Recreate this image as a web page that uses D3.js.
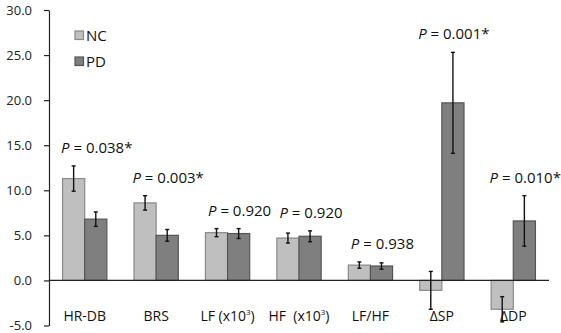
<!DOCTYPE html>
<html>
<head>
<meta charset="utf-8">
<script src="https://cdn.jsdelivr.net/npm/d3@7"></script>
<style>
  body { margin: 0; background: #fff; }
  text { font-family: "Open Sans", sans-serif; }
</style>
</head>
<body>
<div id="chart"></div>
<script>
const width = 561;
const height = 333;
const margin = { top: 10, right: 12, bottom: 7.5, left: 49 };

// data
const categories = ["HR-DB", "BRS", "LF", "HF", "LF/HF", "ΔSP", "ΔDP"];
const ncMean = [11.3, 8.6, 5.3, 4.7, 1.7, -1.1, -3.2];
const ncErr = [1.4, 0.8, 0.45, 0.55, 0.35, 2.1, 1.4];
const pdMean = [6.8, 5.0, 5.2, 4.9, 1.6, 19.7, 6.6];
const pdErr = [0.8, 0.65, 0.55, 0.6, 0.35, 5.6, 2.8];
const pLabels = ["0.038*", "0.003*", "0.920", "0.920", "0.938", "0.001*", "0.010*"];
const yTicks = [-5, 0, 5, 10, 15, 20, 25, 30];
const groups = ["NC", "PD"];

const fills = { NC: "#bfbfbf", PD: "#7f7f7f" };
const strokes = { NC: "#8a8a8a", PD: "#555555" };

const svg = d3.select("#chart")
    .append("svg")
    .attr("width", width)
    .attr("height", height);

const xScale = d3.scaleBand()
    .domain(categories)
    .range([margin.left, width - margin.right])
    .paddingInner(0.38)
    .paddingOuter(0.19);

const sub = d3.scaleBand()
    .domain(groups)
    .range([0, xScale.bandwidth()]);

const yScale = d3.scaleLinear()
    .domain([-5, 30])
    .range([height - margin.bottom, margin.top]);

// y axis
const yAxis = svg.append("g")
    .attr("transform", `translate(${margin.left},0)`)
    .call(d3.axisLeft(yScale)
        .tickValues(yTicks)
        .tickFormat(d => d.toFixed(1))
        .tickSize(5)
        .tickSizeOuter(0)
        .tickPadding(12));
yAxis.selectAll("text")
    .style("font-size", "13px")
    .attr("fill", "#222");
yAxis.selectAll("line, path").attr("stroke", "#222").attr("stroke-width", 1.2);

// flatten bars
const bars = [];
categories.forEach((c, i) => {
    bars.push({ cat: c, group: "NC", mean: ncMean[i], err: ncErr[i] });
    bars.push({ cat: c, group: "PD", mean: pdMean[i], err: pdErr[i] });
});

svg.selectAll(".bar")
    .data(bars)
    .join("rect")
    .attr("class", "bar")
    .attr("x", d => xScale(d.cat) + sub(d.group))
    .attr("width", sub.bandwidth())
    .attr("y", d => yScale(Math.max(0, d.mean)))
    .attr("height", d => Math.abs(yScale(d.mean) - yScale(0)))
    .attr("fill", d => fills[d.group])
    .attr("stroke", d => strokes[d.group])
    .attr("stroke-width", 1.2);

// zero line
svg.append("line")
    .attr("x1", margin.left)
    .attr("x2", width - margin.right)
    .attr("y1", yScale(0))
    .attr("y2", yScale(0))
    .attr("stroke", "#222")
    .attr("stroke-width", 1.2);

// error bars
const eb = svg.selectAll(".err")
    .data(bars)
    .join("g")
    .attr("class", "err")
    .attr("transform", d => `translate(${xScale(d.cat) + sub(d.group) + sub.bandwidth() / 2},0)`)
    .attr("stroke", "#111")
    .attr("stroke-width", 1.4);
eb.append("line")
    .attr("y1", d => yScale(d.mean + d.err))
    .attr("y2", d => yScale(d.mean - d.err));
eb.append("line")
    .attr("x1", -2).attr("x2", 2)
    .attr("y1", d => yScale(d.mean + d.err))
    .attr("y2", d => yScale(d.mean + d.err));
eb.append("line")
    .attr("x1", -2).attr("x2", 2)
    .attr("y1", d => yScale(d.mean - d.err))
    .attr("y2", d => yScale(d.mean - d.err));

// P value labels above highest error bar
categories.forEach((c, i) => {
    const top = Math.max(ncMean[i] + ncErr[i], pdMean[i] + pdErr[i]);
    const t = svg.append("text")
        .attr("x", xScale(c) + xScale.bandwidth() / 2 + 12)
        .attr("y", yScale(top) - 13)
        .attr("text-anchor", "middle")
        .style("font-size", "15px")
        .attr("fill", "#111");
    t.append("tspan").style("font-style", "italic").text("P");
    t.append("tspan").text(" = " + pLabels[i]);
});

// category labels
const catLabels = svg.selectAll(".cat")
    .data(categories)
    .join("text")
    .attr("class", "cat")
    .attr("x", d => xScale(d) + xScale.bandwidth() / 2)
    .attr("y", 321)
    .attr("text-anchor", "middle")
    .style("font-size", "14px")
    .attr("fill", "#111");
catLabels.each(function(d) {
    const t = d3.select(this);
    if (d === "LF" || d === "HF") {
        t.append("tspan").text(d === "HF" ? "HF\u00a0\u00a0(x10" : "LF (x10");
        t.append("tspan").attr("dy", -6).style("font-size", "8px").text("3");
        t.append("tspan").attr("dy", 6).text(")");
    } else {
        t.text(d);
    }
});

// legend
const legend = svg.append("g").attr("transform", "translate(75,31)");
const li = legend.selectAll("g")
    .data(groups)
    .join("g")
    .attr("transform", (d, i) => `translate(0,${i * 26})`);
li.append("rect")
    .attr("width", 8.5)
    .attr("height", 8.5)
    .attr("fill", d => fills[d])
    .attr("stroke", d => strokes[d])
    .attr("stroke-width", 1.2);
li.append("text")
    .attr("x", 11)
    .attr("y", 9.5)
    .style("font-size", "15px")
    .attr("fill", "#111")
    .text(d => d);
</script>
</body>
</html>
